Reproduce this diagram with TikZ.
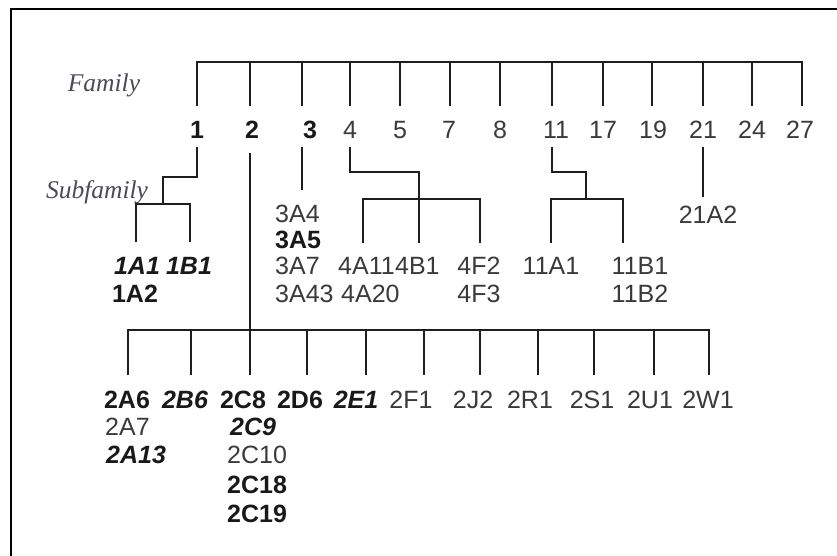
\documentclass[tikz,border=0pt]{standalone}
\usepackage{fontspec}
\setmainfont{Liberation Sans}
\newfontfamily\serifit{Liberation Serif}
\definecolor{txt}{HTML}{3A3A3A}
\definecolor{lab}{HTML}{4A4A5A}
\begin{document}
\begin{tikzpicture}[x=1pt,y=-1pt,
  conn/.style={line width=2.9pt, draw=black!88},
  lbl/.style={inner sep=0pt, anchor=base, font=\fontsize{25}{28}\selectfont, text=txt},
  blbl/.style={lbl, font=\fontsize{25}{28}\selectfont\bfseries, text=black!90},
  bilbl/.style={lbl, font=\fontsize{25}{28}\selectfont\bfseries\itshape, text=black!90},
  side/.style={inner sep=0pt, anchor=base, font=\serifit\fontsize{25.5}{28}\selectfont\itshape, text=lab}]
\useasboundingbox (0,0) rectangle (837,556);
\fill[white] (0,0) rectangle (837,556);
% frame
\coordinate (fr1) at (11,556); \coordinate (fr2) at (11,9); \coordinate (fr3) at (837,9);
\draw[line width=2.4pt] (fr1) -- (fr2) -- (fr3);
% side labels
\node[side] (famlab) at (104,92) {Family};
\node[side] (sublab) at (97,198) {Subfamily};
% family bar
\foreach \n/\x in {1/197,2/250,3/302,4/350,5/400,7/450,8/500,11/552,17/603,19/652,21/703,24/752,27/802}{
  \coordinate (ft\n) at (\x,62); \coordinate (fb\n) at (\x,106);
  \coordinate (fs\n) at (\x,147);
}
\draw[conn] (fb1) -- (ft1) -- (ft27) -- (fb27);
\foreach \n in {2,3,4,5,7,8,11,17,19,21,24}{\draw[conn] (ft\n) -- (fb\n);}
% family numbers
\node[blbl] (n1) at (197,138.5) {1};
\node[blbl] (n2) at (252,138.5) {2};
\node[blbl] (n3) at (310,138.5) {3};
\foreach \n/\x in {4/350,5/400,7/449,8/500,11/556,17/603,19/653,21/703,24/752,27/800}{
  \node[lbl] (n\n) at (\x,138.5) {\n};
}
% family 1
\coordinate (a1) at (197,177); \coordinate (a2) at (163,177); \coordinate (a3) at (163,204);
\coordinate (a4) at (136,242); \coordinate (a5) at (136,204); \coordinate (a6) at (190,204); \coordinate (a7) at (190,242);
\draw[conn] (fs1) -- (a1) -- (a2) -- (a3);
\draw[conn] (a4) -- (a5) -- (a6) -- (a7);
\node[bilbl] (s1A1) at (137,274) {1A1};
\node[bilbl] (s1B1) at (189,274) {1B1};
\node[blbl] (s1A2) at (135,302) {1A2};
% family 3
\coordinate (c1) at (302,190);
\draw[conn] (fs3) -- (c1);
\node[lbl,anchor=base west] (s3A4) at (275,222) {3A4};
\node[blbl,anchor=base west] (s3A5) at (275,248) {3A5};
\node[lbl,anchor=base west] (s3A7) at (275,274) {3A7};
\node[lbl,anchor=base west] (s3A43) at (275,302) {3A43};
% family 4
\coordinate (d1) at (350,172); \coordinate (d2) at (419,172); \coordinate (d3) at (419,243);
\coordinate (d4) at (363,243); \coordinate (d5) at (363,199); \coordinate (d6) at (480,199); \coordinate (d7) at (480,243);
\draw[conn] (fs4) -- (d1) -- (d2) -- (d3);
\draw[conn] (d4) -- (d5) -- (d6) -- (d7);
\node[lbl,anchor=base west] (s4A11) at (338,274) {4A11};
\node[lbl,anchor=base west] (s4B1) at (s4A11.base east) {4B1};
\node[lbl,anchor=base west] (s4A20) at (341,302) {4A20};
\node[lbl] (s4F2) at (479,274) {4F2};
\node[lbl] (s4F3) at (479,302) {4F3};
% family 11
\coordinate (e1) at (552,172); \coordinate (e2) at (586,172); \coordinate (e3) at (586,199);
\coordinate (e4) at (551,243); \coordinate (e5) at (551,199); \coordinate (e6) at (623,199); \coordinate (e7) at (623,243);
\draw[conn] (fs11) -- (e1) -- (e2) -- (e3);
\draw[conn] (e4) -- (e5) -- (e6) -- (e7);
\node[lbl] (s11A1) at (551,274) {11A1};
\node[lbl] (s11B1) at (640,274) {11B1};
\node[lbl] (s11B2) at (640,302) {11B2};
% family 21
\coordinate (g1) at (703,197);
\draw[conn] (fs21) -- (g1);
\node[lbl] (s21A2) at (708,223) {21A2};
% family 2
\coordinate (b0) at (250,153); \coordinate (b1) at (250,330);
\draw[conn] (b0) -- (b1);
\foreach \k/\x in {1/128,2/191,3/250,4/307,5/366,6/424,7/480,8/538,9/594,10/654,11/709}{
  \coordinate (bt\k) at (\x,330); \coordinate (bb\k) at (\x,375);
}
\draw[conn] (bb1) -- (bt1) -- (bt11) -- (bb11);
\foreach \k in {2,...,10}{\draw[conn] (bt\k) -- (bb\k);}
\node[blbl] (s2A6) at (127,408) {2A6};
\node[bilbl] (s2B6) at (185,408) {2B6};
\node[blbl] (s2C8) at (243,408) {2C8};
\node[blbl] (s2D6) at (300,408) {2D6};
\node[bilbl] (s2E1) at (356,408) {2E1};
\node[lbl] (s2F1) at (411,408) {2F1};
\node[lbl] (s2J2) at (473,408) {2J2};
\node[lbl] (s2R1) at (530,408) {2R1};
\node[lbl] (s2S1) at (592,408) {2S1};
\node[lbl] (s2U1) at (650,408) {2U1};
\node[lbl] (s2W1) at (708,408) {2W1};
\node[lbl,anchor=base west] (s2A7) at (105,435) {2A7};
\node[bilbl,anchor=base west] (s2A13) at (106,463) {2A13};
\node[bilbl,anchor=base west] (s2C9) at (230,435) {2C9};
\node[lbl,anchor=base west] (s2C10) at (227,463) {2C10};
\node[blbl,anchor=base west] (s2C18) at (227,493) {2C18};
\node[blbl,anchor=base west] (s2C19) at (227,522) {2C19};
\end{tikzpicture}
\end{document}
